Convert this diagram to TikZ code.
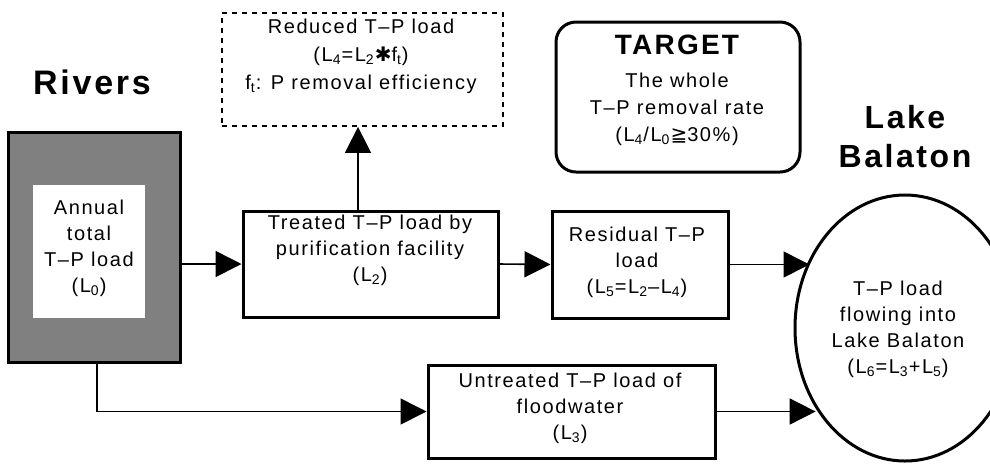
\documentclass[tikz,border=0pt]{standalone}
\usepackage{fontspec}
\setmainfont{Liberation Sans}[LetterSpace=8]
\newfontfamily\headfont{Liberation Sans}[LetterSpace=8]
\newfontfamily\dejafont{DejaVu Sans}
\usetikzlibrary{arrows.meta,shapes.geometric}
\newcommand{\lsub}[1]{\textsubscript{#1}}

\tikzset{
	tpbox/.style={draw, line width=1.5pt, inner sep=0pt},
	txt/.style={align=center, inner sep=0pt, font=\fontsize{10}{13}\selectfont},
	head/.style={align=center, inner sep=0pt, font=\headfont\bfseries\fontsize{17}{19.5}\selectfont},
	flow/.style={line width=0.8pt, -{Triangle[length=13pt,width=13pt]}},
}

\begin{document}
\begin{tikzpicture}[x=0.5pt, y=-0.5pt]
			\useasboundingbox (0,0) rectangle (990,463);
			\clip (0,0) rectangle (990,463);
			
			\node [head] (rivers) at (92,82) {Rivers};
			\node [tpbox, fill=black!50, minimum width=86pt, minimum height=115pt] (source) at (94,247) {};
			\node [fill=white, inner sep=0pt, minimum width=56pt, minimum height=66.5pt] (sourcein) at (89,251.5) {};
			\node [txt] (sourcetxt) at (89,248) {Annual\\total\\T–P load\\(L\lsub{0})};
			
			\node [tpbox, minimum width=127.5pt, minimum height=53pt] (treated) at (370.5,264) {};
			\node [txt] (treatedtxt) at (370,250) {Treated T–P load by\\purification facility\\(L\lsub{2})};
			
			\node [draw, dash pattern=on 2.5pt off 2.5pt, line width=0.9pt, minimum width=140.5pt, minimum height=56.5pt] (reduced) at (362.5,69.5) {};
			\node [txt] (reducedtxt) at (361,56) {Reduced T–P load\\[1pt](L\lsub{4}=L\lsub{2}{\dejafont ✱}f\lsub{t})\\[1pt]f\lsub{t}: P removal efficiency};
			
			\node [tpbox, minimum width=88pt, minimum height=53.5pt] (resid) at (640,264.5) {};
			\node [txt] (residtxt) at (637,262) {Residual T–P\\load\\(L\lsub{5}=L\lsub{2}–L\lsub{4})};
			
			\node [tpbox, minimum width=143.5pt, minimum height=46.5pt] (untreated) at (571.5,411.5) {};
			\node [txt] (untreatedtxt) at (570,408) {Untreated T–P load of\\floodwater\\(L\lsub{3})};
			
			\node [tpbox, rounded corners=10pt, minimum width=122pt, minimum height=75pt] (target) at (678,97) {};
			\node [head, font=\headfont\bfseries\fontsize{14}{16}\selectfont] (targethead) at (677,45) {TARGET};
			\node [txt, font=\fontsize{10}{13.5}\selectfont] (targettxt) at (677,109) {The whole\\T–P removal rate\\(L\lsub{4}/L\lsub{0}{\dejafont ≧}30\%)};
			
			\node [head, font=\headfont\bfseries\fontsize{16}{19.5}\selectfont] (laketitle) at (905,137) {Lake\\Balaton};
			\node [draw, ellipse, line width=1.5pt, inner sep=0pt, minimum width=110pt, minimum height=133pt] (lake) at (905,328) {};
			\node [txt] (laketxt) at (898,329) {T–P load\\flowing into\\Lake Balaton\\(L\lsub{6}=L\lsub{3}+L\lsub{5})};
			
			\draw [flow] (treated.west -| source.east) -- (treated.west);
			\draw [flow] (treated.east) -- (resid.west);
			\draw [flow] ([xshift=-6.25pt]treated.north) -- ([xshift=-6.25pt]treated.north |- reduced.south);
			\draw [flow] (resid.east) -- (resid.east -| lake.144);
			\draw [flow] ([xshift=1.5pt]source.south) |- (untreated.west);
			\draw [flow] (untreated.east) -- (untreated.east -| lake.222);
		\end{tikzpicture}
\end{document}
